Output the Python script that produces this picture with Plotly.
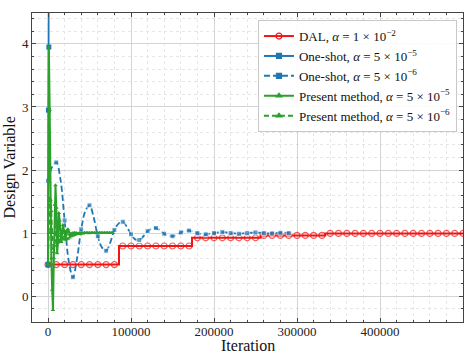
import numpy as np
import plotly.graph_objects as go

# ---------------- data ----------------
# DAL (step curve), alpha = 1e-2
dal_step_x = [0, 85500, 173500, 256000, 334000]
dal_step_y = [0.5, 0.795, 0.925, 0.963, 0.995]
dal_end = 500000
dal_marker_every = 10000

# One-shot, alpha = 5e-5 (diverges)
os1_x = [0, 500, 1000, 1600]
os1_y = [0.5, 2.95, 3.95, 9.0]

# One-shot, alpha = 5e-6 (iterations in thousands)
os2_xk = [0, 5, 10, 15, 20, 25, 30, 35, 40, 45, 50, 55, 60, 65, 70, 75, 80, 85, 90, 95,
          100, 105, 110, 115, 120, 125, 130, 135, 140, 145, 150, 155, 160, 165, 170, 175,
          180, 185, 190, 195, 200, 205, 210, 215, 220, 225, 230, 235, 240, 245, 250, 255,
          260, 265, 270, 275, 280, 285, 290]
os2_y = [1.83, 2.05, 2.12, 1.85, 1.2, 0.55, 0.30, 0.6, 1.06, 1.35, 1.44, 1.25, 0.95, 0.77,
         0.72, 0.85, 1.05, 1.15, 1.18, 1.1, 0.98, 0.9, 0.89, 0.95, 1.03, 1.07, 1.08, 1.04,
         0.99, 0.96, 0.95, 0.97, 1.01, 1.035, 1.04, 1.02, 1.0, 0.985, 0.98, 0.99, 1.0, 1.01,
         1.015, 1.01, 1.0, 0.995, 0.99, 0.995, 1.0, 1.005, 1.01, 1.005, 1.0, 0.995, 0.995,
         1.0, 1.005, 1.005, 1.0]

# Present method, alpha = 5e-5 (iterations in thousands)
pm1_xk = [0, 1, 2, 3, 4, 5, 6, 7, 8, 9, 10, 11, 12, 13, 14, 15, 16, 17, 18, 19, 20, 21,
          22, 23, 24, 25, 26, 27, 28, 30, 32, 34, 36, 38, 40, 42, 44, 46, 48, 50, 52, 54,
          56, 58, 60, 62, 64, 66, 68, 70, 72, 74, 76, 78]
pm1_y = [0.5, 3.95, 2.95, 1.5, 0.6, 0.1, -0.22, 0.6, 1.45, 1.76, 1.4, 0.68, 0.85, 1.32,
         1.2, 0.95, 0.86, 1.0, 1.13, 1.05, 0.95, 0.92, 0.98, 1.05, 1.06, 1.02, 0.98, 0.97,
         0.99, 1.0, 1.005, 1.0, 0.995, 1.0, 1.0, 1.0, 1.0, 1.0, 1.0, 1.0, 1.0, 1.0, 1.0,
         1.0, 1.0, 1.0, 1.0, 1.0, 1.0, 1.0, 1.0, 1.0, 1.0, 1.0]

# Present method, alpha = 5e-6 (iterations in thousands)
pm2_xk = [0, 1, 2, 3, 4, 5, 6, 7, 8, 9, 10, 11, 12, 13, 14, 15, 16, 18, 20, 22, 24, 26,
          28, 30, 32, 34, 36, 38, 40, 42, 44, 46, 48, 50, 52, 54, 56, 58, 60, 62, 64, 66,
          68, 70, 72, 74, 76, 78]
pm2_y = [0.5, 1.0, 1.55, 1.53, 1.35, 1.0, 0.75, 0.7, 0.8, 1.0, 1.1, 1.1, 1.0, 0.9, 0.86,
         0.87, 0.9, 0.92, 0.9, 0.9, 0.91, 0.93, 0.95, 0.96, 0.97, 0.98, 0.985, 0.99, 0.995,
         0.995, 1.0, 1.0, 1.0, 1.0, 1.0, 1.0, 1.0, 1.0, 1.0, 1.0, 1.0, 1.0, 1.0, 1.0, 1.0,
         1.0, 1.0, 1.0]

labels = [
    "DAL, <i>α</i> = 1 × 10<sup>−2</sup>",
    "One-shot, <i>α</i> = 5 × 10<sup>−5</sup>",
    "One-shot, <i>α</i> = 5 × 10<sup>−6</sup>",
    "Present method, <i>α</i> = 5 × 10<sup>−5</sup>",
    "Present method, <i>α</i> = 5 × 10<sup>−6</sup>",
]
x_title = "Iteration"
y_title = "Design Variable"

RED = "#f01414"
BLUE = "#1f77b4"
GREEN = "#2ca02c"
FONT = "'Liberation Serif', 'Times New Roman', Times, serif"

W, H = 472, 354
ML, MR, MT, MB = 32, 9, 13, 32

fig = go.Figure()

# ---- DAL step curve ----
mk_x = np.arange(0, dal_end + 1, dal_marker_every)
all_x = np.unique(np.concatenate([mk_x, dal_step_x]))
idx = np.searchsorted(dal_step_x, all_x, side="right") - 1
all_y = np.array(dal_step_y)[idx]
mk_set = set(mk_x.tolist())
sizes = [6 if x in mk_set else 0 for x in all_x.tolist()]
fig.add_trace(go.Scatter(x=all_x, y=all_y, mode="lines+markers", line_shape="hv",
                         line=dict(color=RED, width=2),
                         marker=dict(symbol="circle-open", size=sizes, color=RED,
                                     line=dict(width=1.2, color=RED)),
                         showlegend=False))

# ---- One-shot 5e-6 (dashed) ----
os2_x = [v * 1000 for v in os2_xk]
os2_sizes = [5 if (v % 10 == 0) else 0 for v in os2_xk]
fig.add_trace(go.Scatter(x=os2_x, y=os2_y, mode="lines+markers", line_shape="spline",
                         line=dict(color=BLUE, width=1.8, dash="6px,3px"),
                         marker=dict(symbol="square", size=os2_sizes, color=BLUE),
                         showlegend=False))

# ---- One-shot 5e-5 ----
fig.add_trace(go.Scatter(x=os1_x, y=os1_y, mode="lines+markers",
                         line=dict(color=BLUE, width=1.8),
                         marker=dict(symbol="square", size=5, color=BLUE),
                         showlegend=False))

# ---- Present method 5e-6 (dashed) ----
fig.add_trace(go.Scatter(x=[v * 1000 for v in pm2_xk], y=pm2_y, mode="lines+markers",
                         line=dict(color=GREEN, width=1.8, dash="5px,3px"),
                         marker=dict(symbol="triangle-up", size=4, color=GREEN),
                         showlegend=False))

# ---- Present method 5e-5 ----
fig.add_trace(go.Scatter(x=[v * 1000 for v in pm1_xk], y=pm1_y, mode="lines+markers",
                         line=dict(color=GREEN, width=2),
                         marker=dict(symbol="triangle-up", size=4, color=GREEN),
                         showlegend=False))

# ---- legend entries ----
leg_specs = [
    (labels[0], RED, "solid", "circle-open", 6),
    (labels[1], BLUE, "solid", "square", 5),
    (labels[2], BLUE, "6px,3px", "square", 5),
    (labels[3], GREEN, "solid", "triangle-up", 5),
    (labels[4], GREEN, "5px,3px", "triangle-up", 5),
]
for name, col, dash, sym, sz in leg_specs:
    fig.add_trace(go.Scatter(x=[None], y=[None], mode="lines+markers", name=name,
                             line=dict(color=col, width=2, dash=dash),
                             marker=dict(symbol=sym, size=sz, color=col,
                                         line=dict(width=1.2, color=col))))

grid_major = "#d4d4d4"
grid_minor = "#e6e6e6"
axis_common = dict(
    showline=True, linecolor="#444", linewidth=1, mirror="ticks",
    ticks="inside", ticklen=4, tickcolor="#444", automargin=False,
    showgrid=True, gridcolor=grid_major, gridwidth=1, zeroline=False,
    tickfont=dict(family=FONT, size=13, color="#222"),
)

fig.update_xaxes(
    range=[-19300, 500000], tickvals=[0, 100000, 200000, 300000, 400000],
    ticktext=["0", "100000", "200000", "300000", "400000"],
    ticklabelstandoff=-3,
    minor=dict(dtick=20000, tick0=0, ticks="inside", ticklen=2, tickcolor="#444",
               showgrid=True, gridcolor=grid_minor, griddash="dot"),
    **axis_common,
)
fig.update_yaxes(
    range=[-0.41, 4.49], tickvals=[0, 1, 2, 3, 4],
    minor=dict(dtick=0.2, tick0=0, ticks="inside", ticklen=2, tickcolor="#444",
               showgrid=True, gridcolor=grid_minor, griddash="dot"),
    **axis_common,
)

pw = W - ML - MR
ph = H - MT - MB
fig.add_annotation(text=x_title, xref="paper", yref="paper",
                   x=0.5, y=-(345 - (H - MB)) / ph, xanchor="center", yanchor="middle",
                   showarrow=False, font=dict(family=FONT, size=16, color="#111"))
fig.add_annotation(text=y_title, xref="paper", yref="paper",
                   x=-(ML - 9) / pw, y=0.5, xanchor="center", yanchor="middle",
                   textangle=-90, showarrow=False,
                   font=dict(family=FONT, size=16, color="#111"))

fig.update_layout(
    width=W, height=H,
    margin=dict(l=ML, r=MR, t=MT, b=MB),
    paper_bgcolor="white", plot_bgcolor="white",
    font=dict(family=FONT, color="#111"),
    legend=dict(x=0.986, y=0.977, xanchor="right", yanchor="top",
                bgcolor="rgba(255,255,255,0.9)", bordercolor="#c8c8c8", borderwidth=1,
                font=dict(family=FONT, size=13, color="#111"),
                itemwidth=30, tracegroupgap=0),
)

fig.write_html("out.html")
